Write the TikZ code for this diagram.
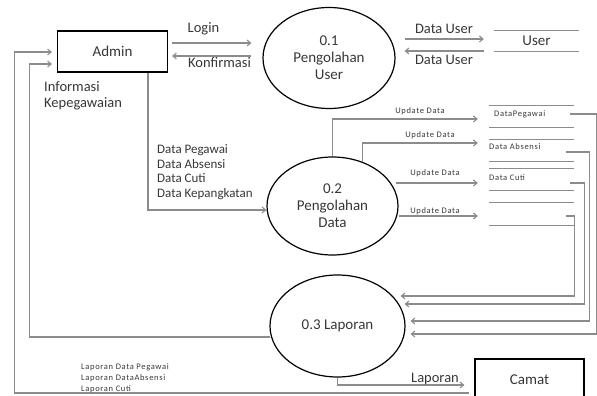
\documentclass[tikz,border=0pt]{standalone}
\usepackage{fontspec}
\setmainfont{Carlito}
\newfontfamily\spacedfont[LetterSpace=8]{Carlito}
\usetikzlibrary{arrows.meta,shapes.geometric}
\definecolor{linegray}{RGB}{140,140,140}
\definecolor{txtgray}{RGB}{55,55,55}
\begin{document}
\begin{tikzpicture}[x=1pt,y=-1pt,
  proc/.style={ellipse, draw=black, line width=1.2pt, inner sep=0pt, align=center,
    text=txtgray, font=\fontsize{15}{17}\selectfont},
  entity/.style={rectangle, draw=black, line width=1.2pt, inner sep=0pt,
    minimum width=110pt, minimum height=41pt, text=txtgray, font=\fontsize{15}{17}\selectfont},
  store/.style={rectangle, inner sep=0pt, minimum width=85pt, minimum height=21pt,
    text=txtgray, font=\fontsize{15}{17}\selectfont},
  storeline/.style={draw=linegray, line width=1.1pt},
  flow/.style={draw=linegray, line width=1.1pt, -{Straight Barb[length=3.5pt,width=6pt]}},
  lbl/.style={inner sep=0pt, text=txtgray, font=\fontsize{14.5}{16}\selectfont},
  lblblock/.style={inner sep=0pt, text=txtgray, align=left, font=\fontsize{13}{14.5}\selectfont},
  tiny/.style={inner sep=0pt, text=txtgray, font=\spacedfont\fontsize{8.5}{11}\selectfont}
]
\useasboundingbox (0,0) rectangle (597,396);
\clip (0,0) rectangle (597,396);

% nodes
\node[entity] (admin) at (112.5,51.5) {Admin};
\node[proc, minimum width=132pt, minimum height=101pt] (p1) at (329,58) {0.1\\Pengolahan\\User};
\node[proc, minimum width=131pt, minimum height=98pt] (p2) at (332.5,206) {0.2\\Pengolahan\\Data};
\node[proc, minimum width=135pt, minimum height=102pt] (p3) at (337.5,326) {0.3 Laporan};
\node[entity, minimum width=109pt, minimum height=42pt] (camat) at (529.5,380) {Camat};

\node[store] (user) at (536.5,41) {User};
\node[store] (s1) at (531.5,116.5) {};
\node[store] (s2) at (531.5,150.5) {};
\node[store] (s3) at (531.5,179.5) {};
\node[store, minimum height=22pt] (s4) at (531.5,214) {};
\foreach \n in {user,s1,s2,s3,s4}
  \draw[storeline] (\n.north west) -- (\n.north east) (\n.south west) -- (\n.south east);

\node[tiny, anchor=west] (s1t) at (494,114) {DataPegawai};
\node[tiny, anchor=west] (s2t) at (489,147) {Data Absensi};
\node[tiny, anchor=west] (s3t) at (489,178) {Data Cuti};

% Admin <-> 0.1
\draw[flow] ([shift={(4,-8.5)}]admin.east) -- ([shift={(-11,-15)}]p1.west);
\draw[flow] ([shift={(-11,-2)}]p1.west) -- ([shift={(4,4.5)}]admin.east);
\node[lbl] (login) at (203.5,29) {Login};
\node[lbl] (konf) at (219.5,63) {Konfirmasi};

% 0.1 <-> User
\draw[flow] ([shift={(9,-19)}]p1.east) -- ([shift={(-10,-2)}]user.west);
\draw[flow] ([shift={(-10,10)}]user.west) -- ([shift={(9,-7)}]p1.east);
\node[lbl] (du1) at (444,29) {Data User};
\node[lbl] (du2) at (444,60) {Data User};

% Admin -> 0.2
\draw[flow] ([shift={(35.5,0)}]admin.south) |- ([shift={(0,4)}]p2.west);
\node[lbl, anchor=west, align=left] (info) at (44,96) {Informasi\\Kepegawaian};
\node[lblblock, anchor=west] (datablk) at (157,172) {Data Pegawai\\Data Absensi\\Data Cuti\\Data Kepangkatan};

% 0.2 -> stores
\draw[flow] (p2.north) |- ([shift={(-11,2.5)}]s1.west);
\draw[flow] (p2.56) |- ([shift={(-11,-7.5)}]s2.west);
\draw[flow] ([shift={(-3,-23)}]p2.east) -- ([shift={(-11,3.5)}]s3.west);
\draw[flow] ([shift={(0,10)}]p2.east) -- ([shift={(-11,2)}]s4.west);
\node[tiny] (u1) at (420,111) {Update Data};
\node[tiny] (u2) at (430,135) {Update Data};
\node[tiny] (u3) at (435,173) {Update Data};
\node[tiny] (u4) at (435,211) {Update Data};

% stores -> 0.3
\draw[flow] ([shift={(-4,-2.5)}]s1.east) -- ++(26,0) |- ([shift={(5,8)}]p3.east);
\draw[flow] ([shift={(-8,1.5)}]s2.east) -- ++(23,0) |- ([shift={(5,-5)}]p3.east);
\draw[flow] ([shift={(-4,3.5)}]s3.east) -- ++(14,0) |- ([shift={(-1,-22)}]p3.east);
\draw[flow] ([shift={(-8,2)}]s4.east) -- ++(8,0) |- ([shift={(-5,-30)}]p3.east);

% 0.3 -> Admin (inner)
\draw[flow] ([shift={(1,11)}]p3.west) -- ++(-241,0) |- ([shift={(-5,12.5)}]admin.west);
% Camat side -> Admin (outer)
\draw[flow] ([shift={(-5,13)}]camat.west) -- ++(-455,0) |- ([shift={(-5,0.5)}]admin.west);
\node[tiny, anchor=west, align=left] (lapblk) at (81,378) {Laporan Data Pegawai\\Laporan DataAbsensi\\Laporan Cuti};

% 0.3 -> Camat
\draw[flow] (p3.south) |- ([shift={(-10,5)}]camat.west);
\node[lbl] (lap) at (435,379) {Laporan};
\end{tikzpicture}
\end{document}
